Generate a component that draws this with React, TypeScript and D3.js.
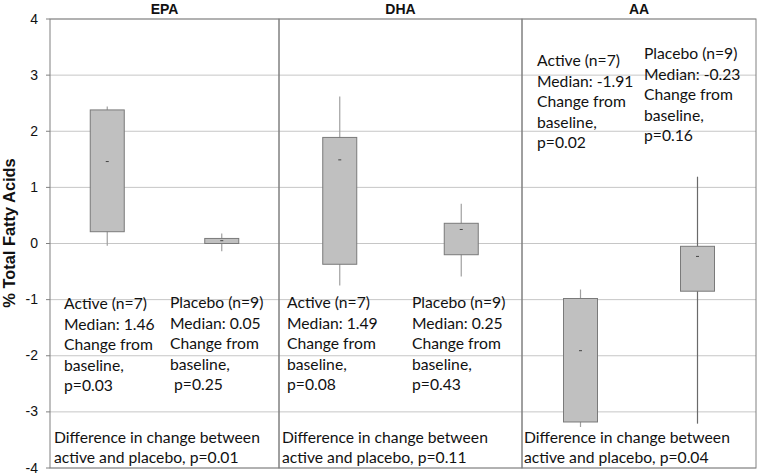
import React from 'react';
import { scaleLinear, scalePoint } from 'd3';

const panels = ['EPA', 'DHA', 'AA'];
const groups = ['Active', 'Placebo'];
const groupN = [7, 9];
const yTicks = [-4, -3, -2, -1, 0, 1, 2, 3, 4];

// per panel: [Active, Placebo]
const whiskerLow = [[-0.04, -0.14], [-0.75, -0.59], [-3.27, -3.21]];
const boxLow = [[0.21, 0.0], [-0.37, -0.2], [-3.18, -0.85]];
const medians = [[1.46, 0.05], [1.49, 0.25], [-1.91, -0.23]];
const boxHigh = [[2.38, 0.09], [1.89, 0.36], [-0.98, -0.05]];
const whiskerHigh = [[2.44, 0.18], [2.62, 0.71], [-0.82, 1.19]];

const changeP = [['0.03', '0.25'], ['0.08', '0.43'], ['0.02', '0.16']];
const diffP = ['0.01', '0.11', '0.04'];

const W = 757;
const H = 474;
const edges = [50, 279, 522, 756];
const top = 19;
const bottom = 468;
const boxW = 34;
const lineH = 20.5;

// where each group's note starts: [x, first baseline]
const notePos = [
  [[64, 309], [170, 308]],
  [[287, 308], [412, 308]],
  [[537, 66], [644, 59]],
];
const diffPos = [54, 282, 524];

function App() {
  React.useEffect(() => {
    document.body.style.margin = '0';
  }, []);

  const y = scaleLinear().domain([-4, 4]).range([bottom, top]);
  const font = "'Lato', 'Noto Sans', sans-serif";
  const sans = "'Liberation Sans', Arial, sans-serif";

  return (
    <svg width={W} height={H} style={{ display: 'block', background: '#fff' }}>
      {/* grid */}
      {yTicks.map(t => (
        <line key={'g' + t} x1={edges[0]} x2={edges[3]} y1={y(t)} y2={y(t)}
          stroke="#c6c6c6" strokeWidth={1} />
      ))}
      {/* ticks + labels */}
      {yTicks.map(t => (
        <g key={'t' + t}>
          <line x1={edges[0] - 4} x2={edges[0]} y1={y(t)} y2={y(t)} stroke="#808080" />
          <text x={38} y={y(t) + 4.5} textAnchor="end" fontSize={14}
            fontFamily={sans} fill="#111">{t}</text>
        </g>
      ))}
      <text transform={`translate(15,233) rotate(-90)`} textAnchor="middle"
        fontSize={16.4} fontWeight="bold" fontFamily={sans} fill="#111">
        % Total Fatty Acids
      </text>

      {panels.map((p, i) => {
        const x = scalePoint<string>().domain(groups).range([edges[i], edges[i + 1]]).padding(0.5);
        return (
          <g key={p}>
            <rect x={edges[i]} y={top} width={edges[i + 1] - edges[i]} height={bottom - top}
              fill="none" stroke="#808080" strokeWidth={1} />
            <text x={(edges[i] + edges[i + 1]) / 2} y={14} textAnchor="middle" fontSize={14}
              fontWeight="bold" fontFamily={sans} fill="#111">{p}</text>
            {groups.map((g, j) => {
              const cx = x(g) as number;
              return (
                <g key={g}>
                  <line x1={cx} x2={cx} y1={y(whiskerLow[i][j])} y2={y(whiskerHigh[i][j])}
                    stroke={i === 2 && j === 1 ? '#6a6a6a' : '#a0a0a0'} strokeWidth={1.2} />
                  <rect x={cx - boxW / 2} y={y(boxHigh[i][j])} width={boxW}
                    height={y(boxLow[i][j]) - y(boxHigh[i][j])}
                    fill="#c0c0c0" stroke="#7a7a7a" strokeWidth={1} />
                  <line x1={cx - 1.5} x2={cx + 1.5} y1={y(medians[i][j])} y2={y(medians[i][j])}
                    stroke="#444" strokeWidth={1} />
                </g>
              );
            })}
            {groups.map((g, j) => {
              const [nx, ny] = notePos[i][j];
              const lines = [
                `${g} (n=${groupN[j]})`,
                `Median: ${medians[i][j].toFixed(2)}`,
                'Change from',
                'baseline,',
                `p=${changeP[i][j]}`,
              ];
              return (
                <text key={'n' + g} fontSize={15.7} fontFamily={font} fill="#111">
                  {lines.map((l, k) => (
                    <tspan key={k} x={nx + (i === 0 && j === 1 && k === 4 ? 4 : 0)} y={ny + k * lineH}>{l}</tspan>
                  ))}
                </text>
              );
            })}
            <text fontSize={15.7} fontFamily={font} fill="#111">
              <tspan x={diffPos[i]} y={443}>Difference in change between</tspan>
              <tspan x={diffPos[i]} y={463}>active and placebo, p={diffP[i]}</tspan>
            </text>
          </g>
        );
      })}
    </svg>
  );
}

export default App;
